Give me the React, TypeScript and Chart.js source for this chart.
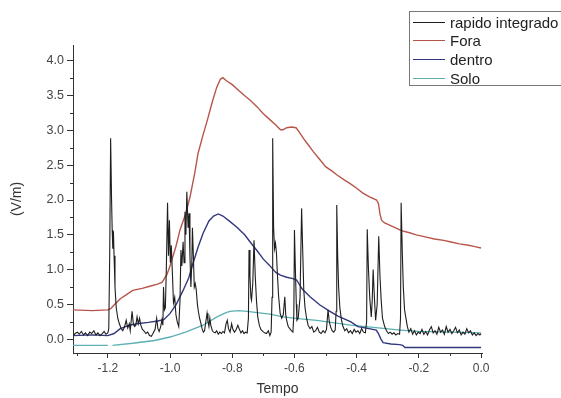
import React, { useEffect, useRef } from "react";
import { Chart, registerables } from "chart.js";

Chart.register(...registerables);

// ---------- data ----------
const seriesNames = ["rapido integrado", "Fora", "dentro", "Solo"];
const seriesColors = ["#1e1e1e", "#b8554a", "#33387e", "#5cb0b4"];

const xTicks = [-1.2, -1.0, -0.8, -0.6, -0.4, -0.2, 0.0];
const xMinorTicks = [-1.3, -1.1, -0.9, -0.7, -0.5, -0.3, -0.1];
const yTicks = [0, 0.5, 1.0, 1.5, 2.0, 2.5, 3.0, 3.5, 4.0];
const yMinorTicks = [0.25, 0.75, 1.25, 1.75, 2.25, 2.75, 3.25, 3.75];

const rapidoX = [
  -1.312, -1.305, -1.298, -1.292, -1.285, -1.278, -1.272, -1.265, -1.258, -1.252,
  -1.245, -1.238, -1.232, -1.225, -1.218, -1.212, -1.206, -1.2, -1.197, -1.194,
  -1.191, -1.188, -1.186, -1.184, -1.182, -1.18, -1.177, -1.173, -1.168, -1.163,
  -1.157, -1.152, -1.146, -1.141, -1.136, -1.131, -1.128, -1.122, -1.118, -1.114,
  -1.11, -1.106, -1.102, -1.098, -1.094, -1.089, -1.084, -1.078, -1.072, -1.066,
  -1.06, -1.055, -1.048, -1.043, -1.039, -1.035, -1.03, -1.026, -1.023, -1.021,
  -1.018, -1.015, -1.012, -1.008, -1.005, -1.002, -0.999, -0.996, -0.992, -0.989,
  -0.985, -0.981, -0.977, -0.972, -0.968, -0.965, -0.962, -0.958, -0.955, -0.952,
  -0.949, -0.946, -0.942, -0.939, -0.936, -0.933, -0.93, -0.928, -0.925, -0.922,
  -0.919, -0.916, -0.912, -0.909, -0.905, -0.901, -0.897, -0.893, -0.889, -0.885,
  -0.881, -0.878, -0.875, -0.872, -0.869, -0.864, -0.86, -0.855, -0.85, -0.845,
  -0.84, -0.835, -0.83, -0.825, -0.82, -0.816, -0.812, -0.807, -0.802, -0.798,
  -0.793, -0.788, -0.782, -0.777, -0.772, -0.767, -0.762, -0.757, -0.752, -0.748,
  -0.746, -0.743, -0.74, -0.738, -0.734, -0.73, -0.726, -0.722, -0.718, -0.713,
  -0.708, -0.702, -0.696, -0.69, -0.684, -0.679, -0.675, -0.672, -0.67, -0.667,
  -0.664, -0.661, -0.658, -0.655, -0.651, -0.646, -0.641, -0.636, -0.631, -0.628,
  -0.625, -0.62, -0.615, -0.61, -0.605, -0.602, -0.6, -0.597, -0.594, -0.592,
  -0.588, -0.582, -0.577, -0.573, -0.57, -0.566, -0.561, -0.556, -0.55, -0.544,
  -0.538, -0.532, -0.526, -0.52, -0.514, -0.508, -0.502, -0.497, -0.492, -0.488,
  -0.484, -0.479, -0.474, -0.469, -0.466, -0.464, -0.461, -0.458, -0.454, -0.449,
  -0.444, -0.438, -0.432, -0.426, -0.42, -0.414, -0.408, -0.402, -0.396, -0.39,
  -0.384, -0.378, -0.372, -0.368, -0.366, -0.362, -0.358, -0.353, -0.35, -0.347,
  -0.343, -0.339, -0.334, -0.329, -0.325, -0.321, -0.317, -0.31, -0.304, -0.298,
  -0.292, -0.286, -0.28, -0.274, -0.268, -0.262, -0.259, -0.257, -0.253, -0.25,
  -0.246, -0.237, -0.232, -0.226, -0.22, -0.214, -0.208, -0.202, -0.196, -0.19,
  -0.184, -0.178, -0.172, -0.166, -0.16, -0.154, -0.148, -0.142, -0.136, -0.13,
  -0.124, -0.118, -0.112, -0.106, -0.1, -0.094, -0.088, -0.082, -0.076, -0.07,
  -0.064, -0.058, -0.052, -0.046, -0.04, -0.034, -0.028, -0.022, -0.016, -0.01,
  -0.004, 0.0,
];
const rapidoY = [
  0.05, 0.08, 0.1, 0.07, 0.11, 0.06, 0.09, 0.05, 0.1, 0.08,
  0.12, 0.06, 0.09, 0.05, 0.08, 0.11, 0.07, 0.09, 0.15, 1.2,
  2.89, 2.0, 1.57, 1.3, 1.55, 1.2, 0.75, 0.45, 0.3, 0.22,
  0.15, 0.12, 0.18, 0.27, 0.16, 0.22, 0.12, 0.4, 0.22, 0.18,
  0.2, 0.32, 0.22, 0.3, 0.2, 0.14, 0.12, 0.08, 0.1, 0.05,
  0.04, 0.08, 0.14, 0.3, 0.15, 0.11, 0.18, 0.28, 0.2, 0.75,
  0.42, 0.45, 1.0, 1.96, 1.2, 1.71, 1.1, 1.35, 0.9, 0.52,
  0.6, 0.35, 0.25, 0.18, 0.55, 1.28, 1.05, 1.4, 1.1, 1.83,
  1.5, 2.12, 1.6, 1.81, 1.2, 0.75, 1.1, 1.6, 1.2, 0.75,
  0.8, 0.72, 0.5, 0.4, 0.3, 0.23, 0.15, 0.1, 0.12, 0.25,
  0.37, 0.25, 0.18, 0.3, 0.2, 0.12, 0.1, 0.09, 0.12, 0.07,
  0.1, 0.08, 0.11, 0.09, 0.22, 0.27, 0.15, 0.1, 0.22, 0.14,
  0.1, 0.13, 0.2, 0.14, 0.09, 0.12, 0.08, 0.1, 0.09, 0.3,
  1.28, 0.9, 0.6, 0.56, 0.8, 1.42, 0.9, 0.55, 0.32, 0.2,
  0.14, 0.11, 0.09, 0.08, 0.12, 0.05, 0.1, 0.6, 2.89, 1.6,
  1.3, 1.38, 1.25, 0.95, 0.62, 0.37, 0.3, 0.35, 0.61, 0.35,
  0.27, 0.18, 0.15, 0.12, 0.1, 0.35, 1.57, 1.0, 0.5, 0.27,
  0.3, 0.6, 1.88, 1.2, 0.7, 0.45, 0.3, 0.2, 0.15, 0.18,
  0.1, 0.12, 0.17, 0.1, 0.08, 0.12, 0.09, 0.14, 0.42, 0.25,
  0.18, 0.12, 0.1, 0.13, 0.4, 1.93, 1.2, 0.75, 0.45, 0.28,
  0.18, 0.12, 0.15, 0.09, 0.12, 0.08, 0.14, 0.1, 0.12, 0.08,
  0.15, 0.1, 0.09, 0.25, 1.58, 1.0, 0.6, 0.32, 0.55, 1.0,
  0.6, 0.27, 0.5, 1.48, 0.9, 0.55, 0.3, 0.18, 0.12, 0.08,
  0.1, 0.07, 0.09, 0.06, 0.08, 0.07, 0.3, 1.96, 1.2, 0.75,
  0.42, 0.18, 0.1, 0.15, 0.07, 0.12, 0.06, 0.1, 0.08, 0.14,
  0.07, 0.11, 0.06, 0.13, 0.18, 0.09, 0.12, 0.07, 0.17, 0.1,
  0.13, 0.07, 0.18, 0.1, 0.14, 0.08, 0.12, 0.17, 0.09, 0.13,
  0.06, 0.1, 0.07, 0.15, 0.09, 0.12, 0.06, 0.09, 0.05, 0.08,
  0.06, 0.08,
];

const foraX = [
  -1.312, -1.25, -1.2, -1.19, -1.18, -1.16, -1.14, -1.12, -1.09, -1.065,
  -1.04, -1.025, -1.01, -1.0, -0.98, -0.968, -0.95, -0.936, -0.92, -0.91,
  -0.895, -0.88, -0.865, -0.85, -0.838, -0.83, -0.82, -0.8, -0.78, -0.76,
  -0.743, -0.72, -0.7, -0.68, -0.66, -0.645, -0.637, -0.625, -0.61, -0.595,
  -0.585, -0.57, -0.56, -0.54, -0.518, -0.5, -0.48, -0.463, -0.44, -0.422,
  -0.4, -0.38, -0.36, -0.336, -0.33, -0.325, -0.32, -0.31, -0.294, -0.275,
  -0.256, -0.23, -0.208, -0.18, -0.15, -0.12, -0.1, -0.07, -0.04, -0.02,
  0.0,
];
const foraY = [
  0.42, 0.41, 0.42, 0.44, 0.49, 0.58, 0.64, 0.7, 0.73, 0.76,
  0.79, 0.82, 0.93, 1.05, 1.35, 1.57, 1.8, 2.04, 2.4, 2.67,
  2.92, 3.15, 3.4, 3.62, 3.74, 3.76, 3.72, 3.66, 3.58, 3.5,
  3.44, 3.34, 3.24, 3.16, 3.08, 3.01, 3.01, 3.04, 3.05, 3.04,
  2.98, 2.88, 2.82, 2.7, 2.58, 2.48, 2.42, 2.36, 2.29, 2.24,
  2.17, 2.1, 2.05, 2.0, 1.95, 1.8, 1.71, 1.67, 1.64, 1.6,
  1.56, 1.53, 1.5, 1.47, 1.44, 1.42, 1.4, 1.37, 1.35, 1.33,
  1.31,
];

const dentroX = [
  -1.312, -1.25, -1.2, -1.18, -1.16, -1.13, -1.107, -1.07, -1.04, -1.02,
  -1.0, -0.98, -0.958, -0.94, -0.926, -0.91, -0.894, -0.875, -0.86, -0.845,
  -0.83, -0.81, -0.785, -0.76, -0.743, -0.72, -0.7, -0.68, -0.66, -0.645,
  -0.625, -0.605, -0.593, -0.575, -0.55, -0.518, -0.486, -0.46, -0.42, -0.396,
  -0.36, -0.337, -0.33, -0.322, -0.315, -0.29, -0.262, -0.252, -0.245, -0.2,
  -0.1, 0.0,
];
const dentroY = [
  0.05, 0.06, 0.05, 0.08, 0.15, 0.2, 0.22, 0.24, 0.26, 0.28,
  0.37, 0.5, 0.7, 0.88, 1.09, 1.32, 1.52, 1.7, 1.77, 1.8,
  1.77, 1.7, 1.61, 1.5, 1.4, 1.27, 1.15, 1.06, 0.96, 0.92,
  0.89, 0.87, 0.85, 0.72, 0.61, 0.49, 0.4, 0.33, 0.25, 0.18,
  0.15, 0.13, 0.08, 0.0, -0.05, -0.07, -0.08, -0.09, -0.12, -0.12,
  -0.12, -0.12,
];

const soloX = [
  -1.312, -1.2, -1.193, -1.185, -1.12, -1.05, -1.0, -0.95, -0.894, -0.849,
  -0.82, -0.807, -0.78, -0.752, -0.72, -0.679, -0.637, -0.58, -0.528, -0.5,
  -0.42, -0.33, -0.26, -0.2, -0.1, 0.0,
];
const soloY = [
  -0.09, -0.09, null, -0.09, -0.06, -0.02, 0.03, 0.1, 0.2, 0.32,
  0.38, 0.4, 0.41, 0.4, 0.38, 0.36, 0.32, 0.29, 0.27, 0.25,
  0.2, 0.16, 0.13, 0.11, 0.1, 0.09,
];

// ---------- helpers ----------
const toPoints = (xs: number[], ys: (number | null)[]) =>
  xs.map((x, i) => ({ x, y: ys[i] }));

const FONT = 'Arial, "Liberation Sans", Helvetica, sans-serif';

const minorTicksPlugin = {
  id: "minorTicks",
  afterDraw(chart: any) {
    const { ctx, chartArea, scales } = chart;
    ctx.save();
    ctx.strokeStyle = "#333";
    ctx.lineWidth = 1;
    ctx.beginPath();
    xMinorTicks.forEach((v) => {
      const px = Math.round(scales.x.getPixelForValue(v)) + 0.5;
      ctx.moveTo(px, chartArea.bottom);
      ctx.lineTo(px, chartArea.bottom + 3);
    });
    yMinorTicks.forEach((v) => {
      const py = Math.round(scales.y.getPixelForValue(v)) + 0.5;
      ctx.moveTo(chartArea.left, py);
      ctx.lineTo(chartArea.left - 3, py);
    });
    ctx.stroke();
    ctx.restore();
  },
};

export default function App() {
  const canvasRef = useRef<HTMLCanvasElement | null>(null);

  useEffect(() => {
    const canvas = canvasRef.current;
    if (!canvas) return;
    const data = {
      datasets: [
        { label: seriesNames[0], data: toPoints(rapidoX, rapidoY), borderColor: seriesColors[0], borderWidth: 1.1, order: 0 },
        { label: seriesNames[1], data: toPoints(foraX, foraY), borderColor: seriesColors[1], borderWidth: 1.4, order: 3 },
        { label: seriesNames[2], data: toPoints(dentroX, dentroY), borderColor: seriesColors[2], borderWidth: 1.4, order: 2 },
        { label: seriesNames[3], data: toPoints(soloX, soloY), borderColor: seriesColors[3], borderWidth: 1.3, order: 4 },
      ],
    };
    const chart = new Chart(canvas, {
      type: "line",
      data: data as any,
      plugins: [minorTicksPlugin],
      options: {
        responsive: false,
        animation: false,
        spanGaps: false,
        layout: { padding: { left: 0, top: 45, right: 79, bottom: 0 } },
        elements: { point: { radius: 0 }, line: { tension: 0, fill: false } },
        plugins: { legend: { display: false }, tooltip: { enabled: false } },
        scales: {
          x: {
            type: "linear",
            min: -1.312,
            max: 0.003,
            afterFit: (s: any) => { s.height = 45; },
            afterBuildTicks: (s: any) => { s.ticks = xTicks.map((v) => ({ value: v })); },
            grid: { drawOnChartArea: false, tickLength: 5, color: "#333", tickWidth: 1 },
            border: { display: true, color: "#333", width: 1 },
            ticks: {
              autoSkip: false,
              maxRotation: 0,
              padding: 3,
              color: "#444",
              font: { family: FONT, size: 12 },
              callback: (v: any) => Number(v).toFixed(1),
            },
            title: {
              display: true,
              text: "Tempo",
              color: "#333",
              font: { family: FONT, size: 14 },
              padding: { top: 0, bottom: 0 },
            },
          },
          y: {
            type: "linear",
            min: -0.2,
            max: 4.23,
            afterFit: (s: any) => { s.width = 73; },
            afterBuildTicks: (s: any) => { s.ticks = yTicks.map((v) => ({ value: v })); },
            grid: { drawOnChartArea: false, tickLength: 6, color: "#333", tickWidth: 1 },
            border: { display: true, color: "#333", width: 1 },
            ticks: {
              autoSkip: false,
              padding: 3,
              color: "#444",
              font: { family: FONT, size: 12.5 },
              callback: (v: any) => Number(v).toFixed(1),
            },
            title: {
              display: true,
              text: "(V/m)",
              color: "#333",
              font: { family: FONT, size: 14 },
              padding: { top: 9, bottom: 0 },
            },
          },
        },
      } as any,
    });
    return () => chart.destroy();
  }, []);

  return (
    <div
      style={{
        position: "absolute",
        left: 0,
        top: 0,
        width: 561,
        height: 398,
        overflow: "hidden",
        background: "#fff",
      }}
    >
      <canvas ref={canvasRef} width={561} height={398} style={{ display: "block" }} />
      <div
        style={{
          position: "absolute",
          left: 409,
          top: 11,
          width: 170,
          height: 73,
          border: "1px solid #777",
          background: "#fff",
          fontFamily: FONT,
          fontSize: 15,
          color: "#222",
        }}
      >
        {seriesNames.map((name, i) => (
          <div
            key={name}
            style={{
              position: "absolute",
              left: 3,
              top: 0.5 + i * 18.9,
              height: 19,
              display: "flex",
              alignItems: "center",
              whiteSpace: "nowrap",
            }}
          >
            <span
              style={{
                display: "inline-block",
                width: 32,
                height: 0,
                borderTop: `1px solid ${seriesColors[i]}`,
                marginRight: 5,
              }}
            />
            <span>{name}</span>
          </div>
        ))}
      </div>
    </div>
  );
}
